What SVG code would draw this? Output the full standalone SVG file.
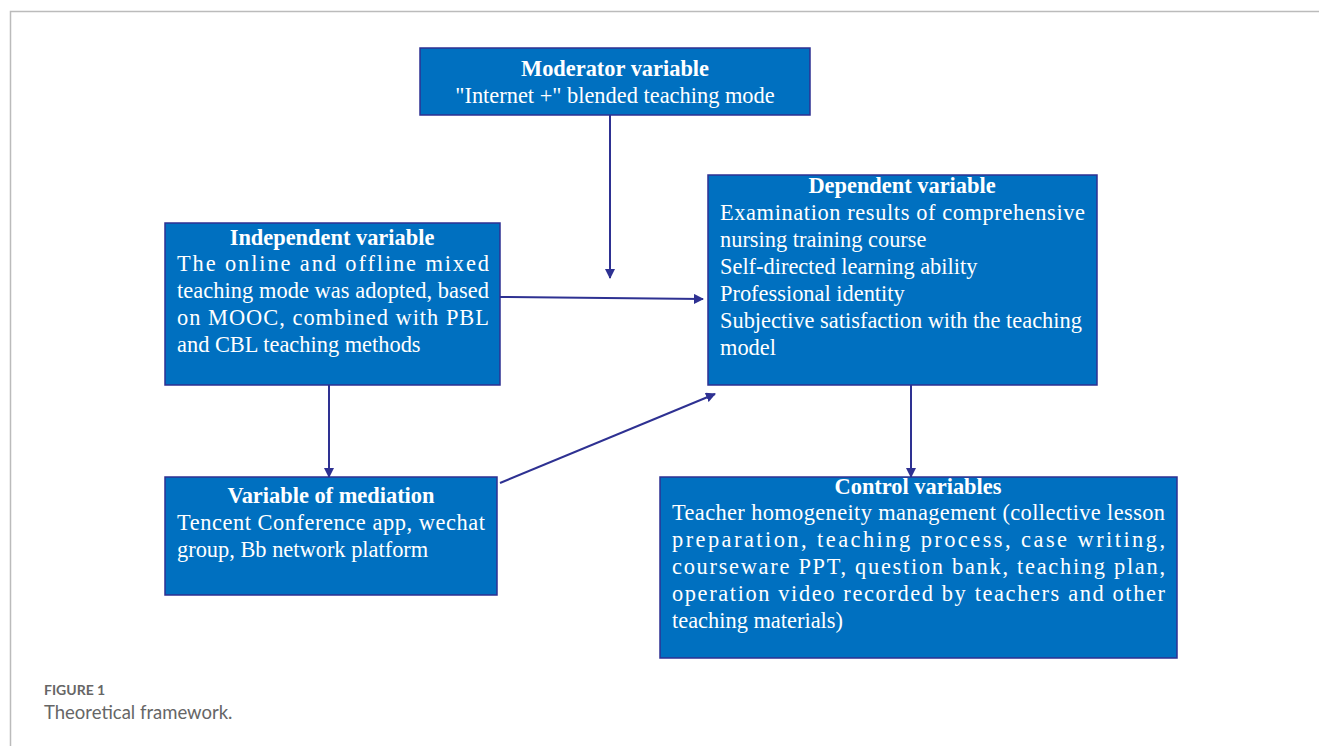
<svg xmlns="http://www.w3.org/2000/svg" width="1319" height="746" viewBox="0 0 1319 746">
<defs>
<style>
.box{fill:#0070C0;stroke:#2E3192;stroke-width:1.5}
.t{font-family:"Liberation Serif","Times New Roman",serif;font-size:22.4px;fill:#fff}
.b{font-weight:bold;text-anchor:middle}
.c{stroke:#2E3192;stroke-width:2;fill:none}
</style>
<marker id="ah" viewBox="0 0 10 10" refX="9" refY="5" markerWidth="5" markerHeight="5" orient="auto" markerUnits="strokeWidth">
<path d="M0,0 L10,5 L0,10 z" fill="#2E3192"/>
</marker>
</defs>
<rect width="1319" height="746" fill="#fff"/>
<path d="M10.5,746 V11.5 H1319" fill="none" stroke="#bbb" stroke-width="1.5"/>
<g id="connectors">
<line class="c" x1="610" y1="115" x2="610" y2="278" marker-end="url(#ah)"/>
<line class="c" x1="500" y1="297" x2="703" y2="299" marker-end="url(#ah)"/>
<line class="c" x1="329" y1="385" x2="329" y2="477" marker-end="url(#ah)"/>
<line class="c" x1="500" y1="483" x2="715" y2="394" marker-end="url(#ah)"/>
<line class="c" x1="911" y1="385" x2="911" y2="477" marker-end="url(#ah)"/>
</g>
<g id="moderator">
<rect class="box" x="420" y="48" width="390" height="67"/>
<text class="t b" x="615" y="76">Moderator variable</text>
<text class="t" x="615" y="103" text-anchor="middle">"Internet +" blended teaching mode</text>
</g>
<g id="independent">
<rect class="box" x="165" y="223" width="335" height="162"/>
<text class="t b" x="332" y="245">Independent variable</text>
<text class="t" x="177" y="271" textLength="312" lengthAdjust="spacing">The online and offline mixed</text>
<text class="t" x="177" y="298" textLength="312" lengthAdjust="spacing">teaching mode was adopted, based</text>
<text class="t" x="177" y="325" textLength="312" lengthAdjust="spacing">on MOOC, combined with PBL</text>
<text class="t" x="177" y="352">and CBL teaching methods</text>
</g>
<g id="dependent">
<rect class="box" x="708" y="175" width="389" height="210"/>
<text class="t b" x="902" y="193">Dependent variable</text>
<text class="t" x="720" y="220" textLength="365" lengthAdjust="spacing">Examination results of comprehensive</text>
<text class="t" x="720" y="247">nursing training course</text>
<text class="t" x="720" y="274">Self-directed learning ability</text>
<text class="t" x="720" y="301">Professional identity</text>
<text class="t" x="720" y="328">Subjective satisfaction with the teaching</text>
<text class="t" x="720" y="355">model</text>
</g>
<g id="mediation">
<rect class="box" x="165" y="477" width="332" height="118"/>
<text class="t b" x="331" y="503">Variable of mediation</text>
<text class="t" x="177" y="530" textLength="308" lengthAdjust="spacing">Tencent Conference app, wechat</text>
<text class="t" x="177" y="557">group, Bb network platform</text>
</g>
<g id="control">
<rect class="box" x="660" y="477" width="517" height="181"/>
<text class="t b" x="918" y="494">Control variables</text>
<text class="t" x="672" y="520" textLength="493" lengthAdjust="spacing">Teacher homogeneity management (collective lesson</text>
<text class="t" x="672" y="547" textLength="493" lengthAdjust="spacing">preparation, teaching process, case writing,</text>
<text class="t" x="672" y="574" textLength="493" lengthAdjust="spacing">courseware PPT, question bank, teaching plan,</text>
<text class="t" x="672" y="601" textLength="493" lengthAdjust="spacing">operation video recorded by teachers and other</text>
<text class="t" x="672" y="628">teaching materials)</text>
</g>
<g id="caption">
<text x="44" y="695" font-family="Lato,'Open Sans',sans-serif" font-size="14" font-weight="bold" fill="#666">FIGURE 1</text>
<text x="44" y="719" font-family="Lato,'Open Sans',sans-serif" font-size="18.5" fill="#666">Theoretical framework.</text>
</g>
</svg>
